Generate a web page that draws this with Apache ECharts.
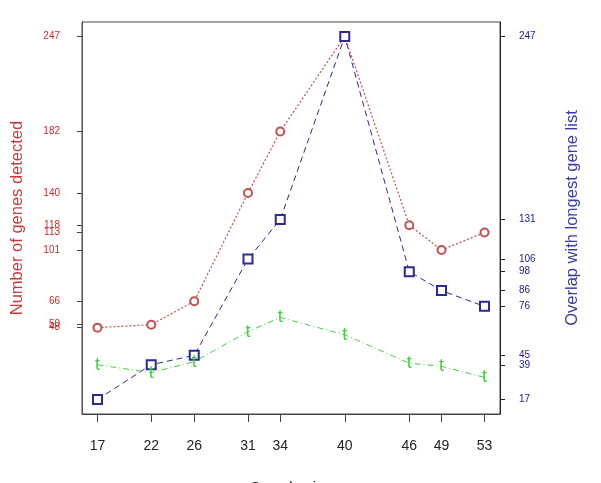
<!DOCTYPE html>
<html><head><meta charset="utf-8">
<script src="https://cdn.jsdelivr.net/npm/echarts@6/dist/echarts.min.js"></script>
<style>html,body{margin:0;padding:0;background:#fff}#c{width:601px;height:483px}</style>
</head><body><div id="c"></div>
<script>
var sampleSizes = [17, 22, 26, 31, 34, 40, 46, 49, 53];
var genesDetected = [48, 50, 66, 140, 182, 247, 118, 101, 113];
var overlapLongest = [17, 39, 45, 106, 131, 247, 98, 86, 76];
var tSeries = [39, 34, 41, 60, 69, 58, 40, 38, 31];
var leftTicks = [50, 66, 101, 113, 118, 140, 182, 247];
var leftTicksExtra = [48];
var rightTicks = [17, 39, 45, 76, 86, 98, 106, 131, 247];
var xTicks = sampleSizes.slice();

function pairs(xs, ys){ return xs.map(function(x,i){ return [x, ys[i]]; }); }

var chart = echarts.init(document.getElementById('c'), null, {renderer:'canvas'});
var FONT = 'Liberation Sans, Arial, sans-serif';
var LMIN = -11, LMAX = 256.8;
chart.setOption({
  animation: false,
  backgroundColor: '#fff',
  grid: {left: 82, right: 101, top: 22, bottom: 69, show: true, borderColor: '#444', borderWidth: 1, backgroundColor: 'transparent', containLabel: false, outerBoundsMode: 'none'},
  xAxis: {
    type: 'value', min: 15.56, max: 54.44,
    name: 'Sample size', nameLocation: 'middle', nameGap: 66,
    nameTextStyle: {color: '#222', fontSize: 15, fontFamily: FONT},
    axisLine: {show: true, onZero: false, lineStyle: {color: '#444'}},
    axisTick: {show: true, customValues: xTicks, length: 8, lineStyle: {color: '#444'}},
    axisLabel: {customValues: xTicks, color: '#222', fontSize: 14, fontFamily: FONT, margin: 25, hideOverlap: false},
    splitLine: {show: false}
  },
  yAxis: [{
    type: 'value', position: 'left', min: LMIN, max: LMAX,
    name: 'Number of genes detected', nameLocation: 'middle', nameGap: 56, nameRotate: 90,
    nameTextStyle: {color: '#c83a3a', fontSize: 16.5, fontFamily: FONT},
    axisLine: {show: true, onZero: false, lineStyle: {color: '#555'}},
    axisTick: {show: true, customValues: leftTicks, length: 5, lineStyle: {color: '#444'}},
    axisLabel: {customValues: leftTicks, color: '#d02828', fontSize: 10, fontFamily: FONT, margin: 22, hideOverlap: false},
    splitLine: {show: false}
  }, {
    type: 'value', position: 'right', min: 7.8, max: 256.2,
    name: 'Overlap with longest gene list', nameLocation: 'middle', nameGap: 64, nameRotate: 90,
    nameTextStyle: {color: '#3a3aa8', fontSize: 16.5, fontFamily: FONT},
    axisLine: {show: true, onZero: false, lineStyle: {color: '#222'}},
    axisTick: {show: true, customValues: rightTicks, length: 5, lineStyle: {color: '#222'}},
    axisLabel: {customValues: rightTicks, color: '#20209a', fontSize: 10, fontFamily: FONT, margin: 19, hideOverlap: false},
    splitLine: {show: false}
  }, {
    type: 'value', position: 'left', min: LMIN, max: LMAX,
    axisLine: {show: false, onZero: false},
    axisTick: {show: true, customValues: leftTicksExtra, length: 5, lineStyle: {color: '#444'}},
    axisLabel: {customValues: leftTicksExtra, color: '#d02828', fontSize: 10, fontFamily: FONT, margin: 22, hideOverlap: false},
    splitLine: {show: false}
  }],
  series: [{
    type: 'line', yAxisIndex: 0, data: pairs(sampleSizes, genesDetected),
    symbol: 'emptyCircle', symbolSize: 8,
    itemStyle: {color: '#c25050', borderWidth: 1.2},
    lineStyle: {color: '#c25050', width: 1.2, type: [2, 2]}
  }, {
    type: 'line', yAxisIndex: 1, data: pairs(sampleSizes, overlapLongest),
    symbol: 'emptyRect', symbolSize: 9,
    itemStyle: {color: '#2a2a98', borderWidth: 1.3},
    lineStyle: {color: '#2a2a98', width: 1, type: [6, 4]}
  }, {
    type: 'line', yAxisIndex: 1, data: pairs(sampleSizes, tSeries),
    symbol: 'circle', symbolSize: 1,
    itemStyle: {color: 'rgba(0,0,0,0)'},
    lineStyle: {color: '#44cc44', width: 1, type: [6, 3, 1, 3]},
    label: {show: true, position: 'inside', formatter: 't', color: '#44cc44', fontSize: 18, fontFamily: FONT}
  }]
});
</script></body></html>
